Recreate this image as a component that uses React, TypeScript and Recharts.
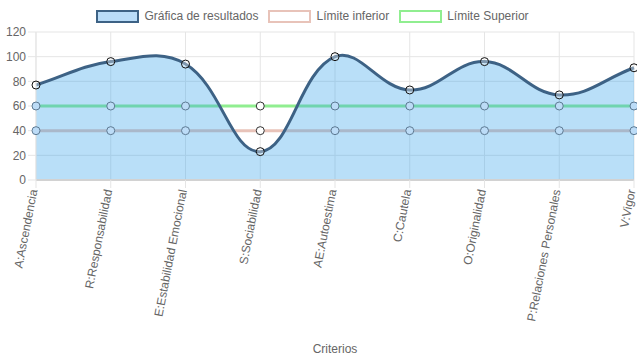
import React from 'react';
import { ComposedChart, Area, XAxis, YAxis, CartesianGrid, Label } from 'recharts';

const criterios = [
  'A:Ascendencia',
  'R:Responsabilidad',
  'E:Estabilidad Emocional',
  'S:Sociabilidad',
  'AE:Autoestima',
  'C:Cautela',
  'O:Originalidad',
  'P:Relaciones Personales',
  'V:Vigor',
];
const resultados = [77, 96, 94, 23, 100, 73, 96, 69, 91];
const limiteInferior = [40, 40, 40, 40, 40, 40, 40, 40, 40];
const limiteSuperior = [60, 60, 60, 60, 60, 60, 60, 60, 60];
const yTicks = [0, 20, 40, 60, 80, 100, 120];

const FONT = '"Liberation Sans", Arial, Helvetica, sans-serif';
const BLUE_LINE = '#3d6285';
const BLUE_FILL = '#36a2eb';
const TAN = '#e8c3b9';
const GREEN = '#90ee90';

const data = criterios.map((name, i) => ({
  name,
  resultados: resultados[i],
  inferior: limiteInferior[i],
  superior: limiteSuperior[i],
}));

// same spline as chart.js (tension 0.4), fed to d3 as a curve factory
class SplineCurve {
  _context: any;
  _t: number;
  _line = NaN;
  _pts: number[][] = [];
  constructor(context: any, t: number) {
    this._context = context;
    this._t = t;
  }
  areaStart() { this._line = 0; }
  areaEnd() { this._line = NaN; }
  lineStart() { this._pts = []; }
  point(x: number, y: number) { this._pts.push([+x, +y]); }
  lineEnd() {
    const p = this._pts;
    const n = p.length;
    const c = this._context;
    if (n > 0) {
      if (this._line) c.lineTo(p[0][0], p[0][1]);
      else c.moveTo(p[0][0], p[0][1]);
      const cps = p.map((cur, i) => {
        const prev = p[Math.max(0, i - 1)];
        const next = p[Math.min(n - 1, i + 1)];
        const d01 = Math.hypot(cur[0] - prev[0], cur[1] - prev[1]);
        const d12 = Math.hypot(next[0] - cur[0], next[1] - cur[1]);
        let s01 = d01 / (d01 + d12);
        let s12 = d12 / (d01 + d12);
        if (isNaN(s01)) s01 = 0;
        if (isNaN(s12)) s12 = 0;
        const fa = this._t * s01;
        const fb = this._t * s12;
        return {
          px: cur[0] - fa * (next[0] - prev[0]),
          py: cur[1] - fa * (next[1] - prev[1]),
          nx: cur[0] + fb * (next[0] - prev[0]),
          ny: cur[1] + fb * (next[1] - prev[1]),
        };
      });
      for (let i = 1; i < n; i++) {
        c.bezierCurveTo(cps[i - 1].nx, cps[i - 1].ny, cps[i].px, cps[i].py, p[i][0], p[i][1]);
      }
    }
    if (this._line || (this._line !== 0 && n === 1)) c.closePath();
    this._line = 1 - this._line;
  }
}

const chartJsCurve = (context: any) => new SplineCurve(context, 0.4);

const XTick = (props: any) => {
  const { x, y, payload } = props;
  return (
    <g transform={`translate(${x},${y})`}>
      <text transform="rotate(-79)" textAnchor="end" dy="0.12em" fontSize={12} fill="#666" fontFamily={FONT}>
        {payload.value}
      </text>
    </g>
  );
};

// limit points sit under the translucent area in the original, so tint the ones covered by it
const LimitDot = (props: any) => {
  const { cx, cy, index, value } = props;
  const v = Array.isArray(value) ? value[1] : value;
  const covered = v < resultados[index];
  return (
    <circle
      key={`ld-${index}-${v}`}
      cx={cx}
      cy={cy}
      r={4}
      fill={covered ? '#bcdcf7' : '#fff'}
      stroke={covered ? '#5d7a93' : '#333'}
      strokeWidth={1}
    />
  );
};

const legendItems = [
  { label: 'Gráfica de resultados', border: BLUE_LINE, fill: '#b9dcf8' },
  { label: 'Límite inferior', border: TAN, fill: '#fff' },
  { label: 'Límite Superior', border: GREEN, fill: '#fff' },
];

export default function App() {
  return (
    <div style={{ position: 'absolute', left: 0, top: 0, width: 637, height: 359, background: '#fff' }}>
      <div
        style={{
          position: 'absolute',
          top: 9,
          left: 0,
          width: 625,
          display: 'flex',
          justifyContent: 'center',
          gap: 10,
          fontFamily: FONT,
          fontSize: 12,
          color: '#666',
        }}
      >
        {legendItems.map((it) => (
          <div key={it.label} style={{ display: 'flex', alignItems: 'center', gap: 5 }}>
            <div
              style={{
                width: 43,
                height: 13,
                boxSizing: 'border-box',
                border: `2px solid ${it.border}`,
                background: it.fill,
              }}
            />
            <span>{it.label}</span>
          </div>
        ))}
      </div>
      <ComposedChart
        width={637}
        height={359}
        data={data}
        margin={{ top: 32, right: 3, left: 0, bottom: 0 }}
      >
        <CartesianGrid stroke="#e5e5e5" />
        <XAxis
          dataKey="name"
          scale="point"
          padding={{ left: 0, right: 0 }}
          height={179}
          interval={0}
          tickSize={8}
          tickMargin={2}
          tickLine={{ stroke: '#e5e5e5' }}
          axisLine={{ stroke: '#d2d2d2', strokeWidth: 2 }}
          tick={<XTick />}
        >
          <Label value="Criterios" position="insideBottom" offset={6} fill="#666" fontSize={12} fontFamily={FONT} />
        </XAxis>
        <YAxis
          domain={[0, 120]}
          ticks={yTicks}
          width={36}
          tickSize={8}
          tickMargin={2}
          tickLine={{ stroke: '#e5e5e5' }}
          axisLine={{ stroke: '#e5e5e5' }}
          tick={{ fill: '#666', fontSize: 12, fontFamily: FONT }}
        />
        {/* limit lines first so the translucent result area sits over them, as in chart.js */}
        <Area
          dataKey="superior"
          type="linear"
          stroke={GREEN}
          strokeWidth={3}
          fill="none"
          dot={<LimitDot />}
          activeDot={false}
          isAnimationActive={false}
        />
        <Area
          dataKey="inferior"
          type="linear"
          stroke={TAN}
          strokeWidth={3}
          fill="none"
          dot={<LimitDot />}
          activeDot={false}
          isAnimationActive={false}
        />
        <Area
          dataKey="resultados"
          type={chartJsCurve as any}
          stroke={BLUE_LINE}
          strokeWidth={3}
          fill={BLUE_FILL}
          fillOpacity={0.35}
          dot={{ r: 4, fill: '#fff', stroke: '#111', strokeWidth: 1 }}
          activeDot={false}
          isAnimationActive={false}
        />
      </ComposedChart>
    </div>
  );
}
